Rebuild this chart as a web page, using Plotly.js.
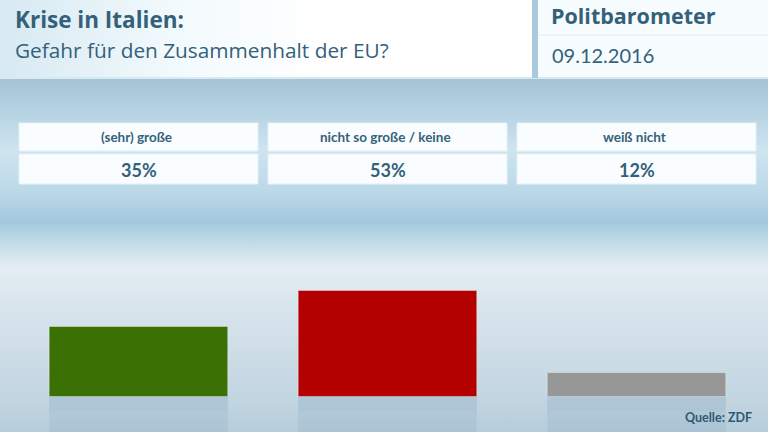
<!DOCTYPE html>
<html>
<head>
<meta charset="utf-8">
<script src="https://cdn.plot.ly/plotly-3.0.1.min.js"></script>
<style>
  html, body { margin: 0; padding: 0; width: 768px; height: 432px; overflow: hidden; }
  #bg { position: absolute; left: 0; top: 0; width: 768px; height: 432px;
    background: linear-gradient(to bottom,
      #a3c4d6 0px, #a3c4d6 78px, #b4d2e2 110px, #cfe4ef 150px, #bcd9e8 190px,
      #a2c9de 222px, #c5dde9 245px, #e4edf3 268px, #dae6ee 300px, #c2d5e1 400px, #b6cddb 432px); }
  #hl { position: absolute; left: 0; top: 0; width: 532px; height: 77px;
    background: linear-gradient(to right, #d7e9f2 0px, #f3fafd 180px, #ffffff 320px); }
  #hb { position: absolute; left: 0; top: 77px; width: 768px; height: 2px; background: #d9e9f1; }
  #hr { position: absolute; left: 538px; top: 0; width: 230px; height: 77px; background: #f7fcfe; }
  #chart { position: absolute; left: 0; top: 0; width: 768px; height: 432px; }
</style>
</head>
<body>
<div id="bg"></div>
<div id="hl"></div>
<div id="hb"></div>
<div id="hr"></div>
<div id="chart"></div>
<script>
// Data
const categories = ["(sehr) große", "nicht so große / keine", "weiß nicht"];
const values = [35, 53, 12];
const valueLabels = ["35%", "53%", "12%"];
const barColors = ["#3a7004", "#b30000", "#979797"];
const titleMain = "Krise in Italien:";
const titleSub = "Gefahr für den Zusammenhalt der EU?";
const brand = "Politbarometer";
const dateText = "09.12.2016";
const source = "Quelle: ZDF";

const W = 768, H = 432;
const px = x => x / W;
const py = y => 1 - y / H;
const textColor = "#34617a";
const FONT = "Lato, 'Open Sans', sans-serif";
const HFONT = "'Open Sans', Lato, sans-serif";
const REFLECT = 18; // reflection depth below the baseline (axis units)

const xs = categories.map((c, i) => i);

const traces = [
  {
    type: "bar",
    x: xs,
    y: values,
    width: 0.717,
    marker: { color: barColors, line: { color: "rgba(255,255,255,0.35)", width: 1 } },
    hoverinfo: "skip",
    showlegend: false
  },
  {
    type: "bar",
    x: xs,
    y: values.map(v => -REFLECT),
    width: 0.717,
    marker: { color: "rgba(140,170,195,0.25)", line: { width: 0 } },
    hoverinfo: "skip",
    showlegend: false
  },
  {
    type: "bar",
    x: xs,
    y: values.map(v => -REFLECT * 0.4),
    width: 0.717,
    marker: { color: "rgba(140,170,195,0.12)", line: { width: 0 } },
    hoverinfo: "skip",
    showlegend: false
  }
];

const shapes = [];
const annotations = [];

// Category boxes
const boxX = [[19, 258], [268, 507], [517, 756]];
categories.forEach((c, i) => {
  const [x0, x1] = boxX[i];
  shapes.push({ type: "rect", xref: "paper", yref: "paper", x0: px(x0), x1: px(x1), y0: py(151), y1: py(123),
    fillcolor: "#fafdff", line: { color: "#e6f1f7", width: 1 }, layer: "below" });
  shapes.push({ type: "rect", xref: "paper", yref: "paper", x0: px(x0), x1: px(x1), y0: py(184), y1: py(154),
    fillcolor: "#fafdff", line: { color: "#e6f1f7", width: 1 }, layer: "below" });
  annotations.push({ xref: "paper", yref: "paper", x: px((x0 + x1) / 2 - 2), y: py(137), text: "<b>" + c + "</b>",
    showarrow: false, xanchor: "center", yanchor: "middle", font: { family: FONT, size: 13.5, color: textColor } });
  annotations.push({ xref: "paper", yref: "paper", x: px((x0 + x1) / 2), y: py(170), text: "<b>" + valueLabels[i] + "</b>",
    showarrow: false, xanchor: "center", yanchor: "middle", font: { family: FONT, size: 18, color: textColor } });
});

// Header separators
shapes.push({ type: "rect", xref: "paper", yref: "paper", x0: px(532), x1: px(538), y0: py(78), y1: py(0),
  fillcolor: "#a9cadc", line: { width: 0 }, layer: "below" });
shapes.push({ type: "line", xref: "paper", yref: "paper", x0: px(538), x1: px(768), y0: py(35), y1: py(35),
  line: { color: "#dfecf3", width: 1 } });

// Header texts
annotations.push({ xref: "paper", yref: "paper", x: px(13), y: py(20), text: "<b>" + titleMain + "</b>",
  showarrow: false, xanchor: "left", yanchor: "middle", font: { family: HFONT, size: 22.5, color: textColor } });
annotations.push({ xref: "paper", yref: "paper", x: px(13), y: py(50), text: titleSub,
  showarrow: false, xanchor: "left", yanchor: "middle", font: { family: HFONT, size: 20.8, color: textColor } });
annotations.push({ xref: "paper", yref: "paper", x: px(549), y: py(16), text: "<b>" + brand + "</b>",
  showarrow: false, xanchor: "left", yanchor: "middle", font: { family: HFONT, size: 21.5, color: textColor } });
annotations.push({ xref: "paper", yref: "paper", x: px(550), y: py(55), text: dateText,
  showarrow: false, xanchor: "left", yanchor: "middle", font: { family: FONT, size: 20, color: textColor } });
annotations.push({ xref: "paper", yref: "paper", x: px(754), y: py(417), text: "<b>" + source + "</b>",
  showarrow: false, xanchor: "right", yanchor: "middle", font: { family: FONT, size: 12.5, color: "#2f5a72" } });

const layout = {
  width: W, height: H,
  margin: { l: 0, r: 0, t: 0, b: 0, pad: 0 },
  paper_bgcolor: "rgba(0,0,0,0)",
  plot_bgcolor: "rgba(0,0,0,0)",
  barmode: "overlay",
  showlegend: false,
  xaxis: { range: [-0.556, 2.528], visible: false, fixedrange: true },
  yaxis: { range: [-17.75, 198.25], visible: false, fixedrange: true },
  shapes: shapes,
  annotations: annotations
};

Plotly.newPlot("chart", traces, layout, { displayModeBar: false, staticPlot: true });
</script>
</body>
</html>
